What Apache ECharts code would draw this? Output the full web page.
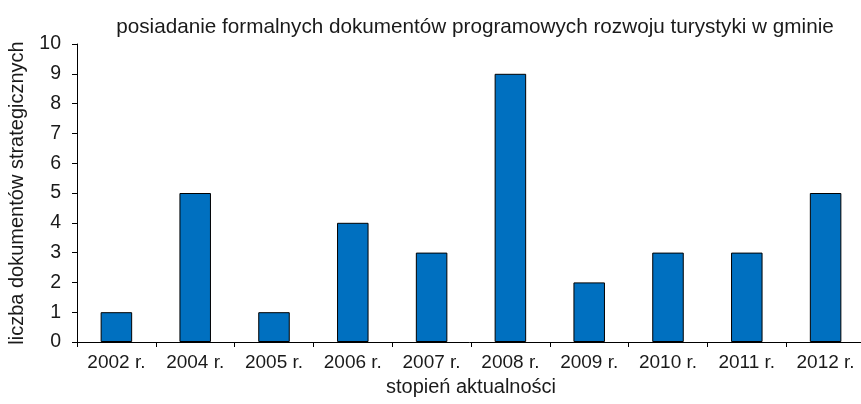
<!DOCTYPE html>
<html>
<head>
<meta charset="utf-8">
<script src="https://cdn.jsdelivr.net/npm/echarts@6/dist/echarts.min.js"></script>
<style>
html,body{margin:0;padding:0;background:#fff;}
#chart{width:861px;height:404px;}
</style>
</head>
<body>
<div id="chart"></div>
<script>
const categories = ['2002 r.', '2004 r.', '2005 r.', '2006 r.', '2007 r.', '2008 r.', '2009 r.', '2010 r.', '2011 r.', '2012 r.'];
const documentCounts = [1, 5, 1, 4, 3, 9, 2, 3, 3, 5];
const titleText = 'posiadanie formalnych dokumentów programowych rozwoju turystyki w gminie';
const xAxisName = 'stopień aktualności';
const yAxisName = 'liczba dokumentów strategicznych';

const font = '"Liberation Sans", Arial, sans-serif';
const chart = echarts.init(document.getElementById('chart'), null, {renderer: 'canvas'});
chart.setOption({
  animation: false,
  title: {
    text: titleText,
    left: 470, top: 12, textAlign: 'center',
    textStyle: {fontFamily: font, fontSize: 20.7, fontWeight: 'normal', color: '#1a1a1a'}
  },
  grid: {left: 77, right: -4, top: 44, bottom: 62, containLabel: false, outerBoundsMode: 'none'},
  xAxis: {
    type: 'category',
    data: categories,
    name: xAxisName,
    nameLocation: 'middle',
    nameGap: 35,
    nameTextStyle: {fontFamily: font, fontSize: 20, color: '#1a1a1a'},
    axisLine: {lineStyle: {color: '#000', width: 1}},
    axisTick: {show: true, length: 5, lineStyle: {color: '#000'}},
    axisLabel: {fontFamily: font, fontSize: 19, color: '#1a1a1a', margin: 11},
    splitLine: {show: false}
  },
  yAxis: {
    type: 'value',
    min: 0, max: 10, interval: 1,
    name: yAxisName,
    nameLocation: 'middle',
    nameGap: 50,
    nameRotate: 90,
    nameTextStyle: {fontFamily: font, fontSize: 20, color: '#1a1a1a'},
    axisLine: {show: true, lineStyle: {color: '#000', width: 1}},
    axisTick: {show: true, length: 5, lineStyle: {color: '#000'}},
    axisLabel: {fontFamily: font, fontSize: 19.5, color: '#1a1a1a', margin: 16},
    splitLine: {show: false}
  },
  series: [{
    type: 'bar',
    data: documentCounts,
    barWidth: '40%',
    itemStyle: {color: '#0070C0', borderColor: '#000', borderWidth: 1}
  }]
});
</script>
</body>
</html>
